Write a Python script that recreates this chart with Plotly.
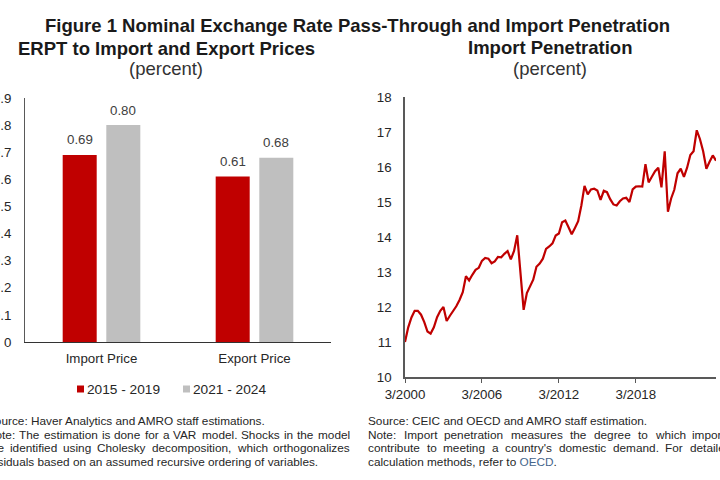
import plotly.graph_objects as go

# ---------------- data ----------------
categories = ["Import Price", "Export Price"]
series_names = ["2015 - 2019", "2021 - 2024"]
erpt_2015_2019 = [0.69, 0.61]
erpt_2021_2024 = [0.80, 0.68]

quarter_dates = [f"{y}-{m:02d}-01" for y in range(2000, 2025) for m in (3, 6, 9, 12)][:98]
import_penetration = [
    11.00, 11.42, 11.70, 11.89, 11.89, 11.78, 11.57, 11.30, 11.24, 11.42,
    11.71, 11.89, 12.00, 11.60, 11.75, 11.88, 12.02, 12.20, 12.42, 12.88,
    12.76, 12.92, 13.06, 13.12, 13.32, 13.40, 13.38, 13.25, 13.30, 13.43,
    13.42, 13.52, 13.60, 13.36, 13.60, 14.05, 13.00, 11.92, 12.40, 12.60,
    12.78, 13.15, 13.24, 13.38, 13.66, 13.73, 13.82, 14.04, 14.10, 14.42,
    14.47, 14.28, 14.08, 14.26, 14.45, 14.90, 15.46, 15.22, 15.36, 15.38,
    15.33, 15.06, 15.32, 15.28, 15.08, 14.93, 14.90, 15.02, 15.10, 15.12,
    15.00, 15.36, 15.44, 15.45, 15.44, 16.08, 15.56, 15.72, 15.88, 15.98,
    15.42, 16.45, 14.72, 15.10, 15.35, 15.82, 15.95, 15.72, 15.98, 16.34,
    16.45, 17.05, 16.80, 16.45, 15.95, 16.15, 16.33, 16.18,
]
date_tickvals = ["2000-03-01", "2006-03-01", "2012-03-01", "2018-03-01"]
date_ticktext = ["3/2000", "3/2006", "3/2012", "3/2018"]

# ---------------- styling helpers ----------------
W, H = 720, 480
FONT = "Liberation Sans, Arial, Helvetica, sans-serif"
RED = "#C00000"
GREY = "#BFBFBF"
TXT = "#262626"


def px(x):
    return x / W


def py(y):
    return 1 - y / H


# Arial / Liberation Sans advance widths (per 1000 em)
AW = {' ': 278, '.': 278, ',': 278, ':': 278, "'": 191, '-': 333, '(': 333, ')': 333}
AW.update({c: 556 for c in "0123456789"})
AW.update(dict(zip("ABCDEFGHIJKLMNOPQRSTUVWXYZ",
                   [667, 667, 722, 722, 667, 611, 778, 722, 278, 500, 667, 556, 833,
                    722, 778, 667, 778, 722, 667, 611, 722, 667, 944, 667, 667, 611])))
AW.update(dict(zip("abcdefghijklmnopqrstuvwxyz",
                   [556, 556, 500, 556, 556, 278, 556, 556, 222, 222, 500, 222, 833,
                    556, 556, 556, 556, 333, 500, 278, 556, 500, 722, 500, 500, 500])))


def text_width(s, size):
    return sum(AW.get(c, 556) for c in s) / 1000 * size


annotations = []


def add_text(x, y, text, size, anchor="left", color=TXT):
    annotations.append(dict(
        x=px(x), y=py(y), xref="paper", yref="paper", text=text, showarrow=False,
        xanchor=anchor, yanchor="middle", borderpad=0,
        font=dict(family=FONT, size=size, color=color)))


NOTE_SIZE = 11.8


def add_justified(x0, width, y, line):
    words = line.split(" ")
    total = sum(text_width(w, NOTE_SIZE) for w in words)
    gap = (width - total) / (len(words) - 1)
    gap = max(gap, text_width(" ", NOTE_SIZE))
    x = x0
    for w in words:
        add_text(x, y, w, NOTE_SIZE)
        x += text_width(w, NOTE_SIZE) + gap


# ---------------- figure ----------------
fig = go.Figure()

for name, vals, col in [(series_names[0], erpt_2015_2019, RED),
                        (series_names[1], erpt_2021_2024, GREY)]:
    fig.add_trace(go.Bar(
        x=categories, y=vals, name=name, marker=dict(color=col, line=dict(width=0)),
        showlegend=False, xaxis="x", yaxis="y"))

# value labels above each bar (placed through the bar axes)
for vals, shift in [(erpt_2015_2019, -21.75), (erpt_2021_2024, 21.75)]:
    for cat, v in zip(categories, vals):
        annotations.append(dict(
            x=cat, y=v, xref="x", yref="y", text=f"{v:.2f}", showarrow=False,
            xanchor="center", yanchor="bottom", xshift=shift, yshift=6.5, borderpad=0,
            font=dict(family=FONT, size=13.3, color="#404040")))

fig.add_trace(go.Scatter(
    x=quarter_dates, y=import_penetration, mode="lines", name="Import Penetration",
    line=dict(color=RED, width=2.2), showlegend=False, xaxis="x2", yaxis="y2"))

tickfont = dict(family=FONT, size=13.3, color=TXT)

fig.update_layout(
    width=W, height=H, margin=dict(l=0, r=0, t=0, b=0, autoexpand=False),
    paper_bgcolor="white", plot_bgcolor="white",
    barmode="group", bargap=0.43, bargroupgap=0.22,
    xaxis=dict(domain=[px(25), px(331)], type="category", showline=True,
               linecolor="#333333", linewidth=1, ticks="", showgrid=False,
               tickfont=tickfont, ticklabelstandoff=4, fixedrange=True),
    yaxis=dict(domain=[py(342), py(98)], range=[0, 0.9], dtick=0.1, showline=True,
               linecolor="#595959", linewidth=1, ticks="", showgrid=False, zeroline=False,
               tickfont=tickfont, ticklabelstandoff=10, fixedrange=True),
    xaxis2=dict(domain=[px(405), px(716)], type="date",
                range=[quarter_dates[0], quarter_dates[-1]],
                tickvals=date_tickvals, ticktext=date_ticktext,
                showline=True, linecolor="#595959", linewidth=1.5,
                ticks="outside", ticklen=4, tickcolor="#595959", tickwidth=1.2,
                showgrid=False, tickfont=tickfont, anchor="y2", fixedrange=True),
    yaxis2=dict(domain=[py(377), py(97)], range=[10, 18], dtick=1, showline=True,
                linecolor="#595959", linewidth=1.5, ticks="", showgrid=False,
                zeroline=False, tickfont=tickfont, ticklabelstandoff=9,
                anchor="x2", fixedrange=True),
)

# titles
add_text(357.5, 25.5, "<b>Figure 1 Nominal Exchange Rate Pass-Through and Import Penetration</b>",
         18.5, anchor="center", color="#1a1a1a")
add_text(166, 48.5, "<b>ERPT to Import and Export Prices</b>", 18.5, anchor="center", color="#1a1a1a")
add_text(166, 68.4, "(percent)", 18.5, anchor="center", color="#333333")
add_text(549.5, 48, "<b>Import Penetration</b>", 18.5, anchor="center", color="#1a1a1a")
add_text(549.5, 68.4, "(percent)", 18.5, anchor="center", color="#333333")

# custom legend
shapes = []
for x0, col, label in [(77, RED, series_names[0]), (183, GREY, series_names[1])]:
    shapes.append(dict(type="rect", xref="paper", yref="paper",
                       x0=px(x0), x1=px(x0 + 7), y0=py(392.5), y1=py(385.5),
                       fillcolor=col, line=dict(width=0)))
    add_text(x0 + 8.5, 389, label, 13.7)

# notes, left block (x from -14 to 349)
LY = [421, 434.5, 448, 461.5]
add_text(-14, LY[0], "Source: Haver Analytics and AMRO staff estimations.", NOTE_SIZE)
add_justified(-14, 363, LY[1], "Note: The estimation is done for a VAR model. Shocks in the model")
add_justified(-14, 363, LY[2], "are identified using Cholesky decomposition, which orthogonalizes")
add_text(-14, LY[3], "residuals based on an assumed recursive ordering of variables.", NOTE_SIZE)

# notes, right block (x from 367 to 730)
add_text(367, LY[0], "Source: CEIC and OECD and AMRO staff estimation.", NOTE_SIZE)
add_justified(367, 363, LY[1], "Note: Import penetration measures the degree to which imports")
add_justified(367, 363, LY[2], "contribute to meeting a country's domestic demand. For detailed")
add_text(367, LY[3], "calculation methods, refer to <span style='color:#45658C'>OECD</span>.", NOTE_SIZE)

fig.update_layout(annotations=annotations, shapes=shapes)
fig.write_html("out.html")
